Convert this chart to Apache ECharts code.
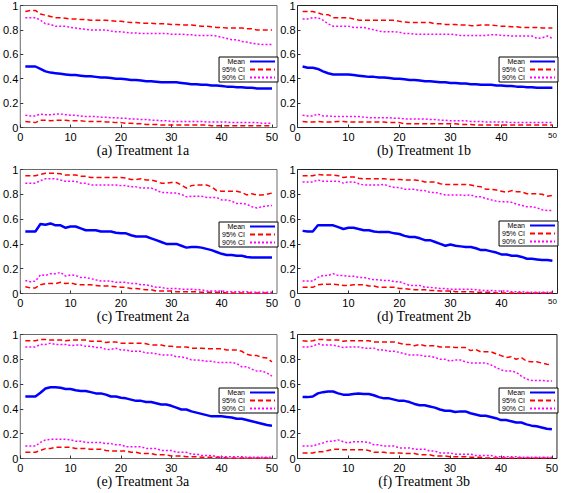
<!DOCTYPE html>
<html><head><meta charset="utf-8">
<script src="https://cdn.jsdelivr.net/npm/echarts@6/dist/echarts.min.js"></script>
<style>html,body{margin:0;padding:0;background:#fff}#c{width:561px;height:493px}</style>
</head><body><div id="c"></div>
<script>
const xValues = [1,2,3,4,5,6,7,8,9,10,11,12,13,14,15,16,17,18,19,20,21,22,23,24,25,26,27,28,29,30,31,32,33,34,35,36,37,38,39,40,41,42,43,44,45,46,47,48,49,50];
const xTicks = [0,10,20,30,40,50];
const captions = ['(a) Treatment 1a','(b) Treatment 1b','(c) Treatment 2a','(d) Treatment 2b','(e) Treatment 3a','(f) Treatment 3b'];
const legendNames = ['Mean','95% CI','90% CI'];

// Panel (a)
const meanA = [0.50,0.50,0.50,0.48,0.46,0.45,0.445,0.44,0.435,0.43,0.43,0.425,0.42,0.42,0.415,0.41,0.41,0.405,0.40,0.40,0.395,0.39,0.39,0.385,0.38,0.38,0.375,0.37,0.37,0.37,0.37,0.365,0.36,0.355,0.355,0.35,0.35,0.345,0.345,0.34,0.335,0.335,0.33,0.33,0.325,0.325,0.32,0.32,0.32,0.32];
const up95A = [0.95,0.96,0.96,0.93,0.92,0.91,0.90,0.90,0.895,0.89,0.89,0.885,0.885,0.88,0.88,0.88,0.88,0.875,0.87,0.87,0.865,0.86,0.86,0.855,0.855,0.855,0.85,0.85,0.85,0.845,0.845,0.84,0.84,0.84,0.835,0.83,0.83,0.825,0.82,0.82,0.815,0.815,0.815,0.815,0.81,0.81,0.80,0.80,0.80,0.80];
const up90A = [0.90,0.90,0.90,0.88,0.85,0.845,0.83,0.83,0.83,0.82,0.815,0.81,0.805,0.80,0.80,0.80,0.80,0.79,0.785,0.785,0.78,0.775,0.775,0.77,0.77,0.77,0.77,0.77,0.77,0.765,0.765,0.765,0.76,0.76,0.755,0.755,0.755,0.755,0.75,0.74,0.73,0.72,0.72,0.705,0.70,0.69,0.685,0.68,0.68,0.68];
const lo90A = [0.10,0.095,0.095,0.11,0.105,0.105,0.11,0.11,0.105,0.10,0.10,0.095,0.09,0.09,0.09,0.085,0.085,0.08,0.08,0.075,0.075,0.07,0.07,0.065,0.065,0.06,0.06,0.055,0.055,0.05,0.05,0.05,0.05,0.05,0.05,0.05,0.045,0.045,0.045,0.045,0.045,0.04,0.04,0.04,0.04,0.04,0.04,0.035,0.035,0.035];
const lo95A = [0.05,0.045,0.04,0.06,0.06,0.055,0.06,0.06,0.06,0.055,0.055,0.055,0.05,0.05,0.05,0.05,0.045,0.045,0.04,0.04,0.035,0.035,0.03,0.03,0.025,0.025,0.025,0.02,0.02,0.02,0.02,0.02,0.02,0.02,0.02,0.02,0.02,0.015,0.015,0.015,0.015,0.015,0.015,0.015,0.015,0.015,0.015,0.015,0.015,0.015];

// Panel (b)
const meanB = [0.50,0.49,0.49,0.48,0.46,0.445,0.435,0.435,0.435,0.435,0.43,0.425,0.42,0.415,0.415,0.41,0.41,0.405,0.40,0.40,0.395,0.39,0.39,0.385,0.38,0.38,0.375,0.37,0.37,0.365,0.365,0.36,0.36,0.355,0.355,0.35,0.35,0.35,0.345,0.345,0.34,0.34,0.335,0.335,0.33,0.33,0.325,0.325,0.325,0.325];
const up95B = [0.95,0.95,0.95,0.94,0.925,0.925,0.90,0.90,0.90,0.90,0.89,0.88,0.88,0.88,0.88,0.88,0.88,0.88,0.88,0.87,0.865,0.86,0.86,0.86,0.86,0.86,0.85,0.85,0.845,0.845,0.845,0.84,0.84,0.835,0.835,0.84,0.84,0.84,0.835,0.83,0.83,0.825,0.825,0.82,0.82,0.82,0.82,0.815,0.815,0.815];
const up90B = [0.89,0.89,0.90,0.90,0.88,0.85,0.83,0.83,0.83,0.83,0.82,0.82,0.82,0.81,0.80,0.79,0.785,0.785,0.785,0.78,0.77,0.77,0.765,0.765,0.765,0.765,0.765,0.765,0.765,0.765,0.76,0.755,0.755,0.755,0.755,0.755,0.755,0.76,0.76,0.755,0.755,0.75,0.75,0.75,0.75,0.75,0.73,0.735,0.75,0.73];
const lo90B = [0.10,0.095,0.095,0.11,0.095,0.095,0.09,0.09,0.09,0.09,0.09,0.09,0.085,0.08,0.08,0.08,0.08,0.08,0.075,0.075,0.07,0.07,0.07,0.07,0.07,0.065,0.065,0.06,0.06,0.055,0.055,0.055,0.055,0.05,0.05,0.05,0.045,0.045,0.045,0.045,0.045,0.04,0.04,0.04,0.04,0.04,0.04,0.04,0.04,0.04];
const lo95B = [0.05,0.045,0.045,0.05,0.045,0.045,0.045,0.05,0.05,0.045,0.045,0.045,0.045,0.045,0.045,0.045,0.045,0.04,0.04,0.04,0.03,0.03,0.03,0.03,0.03,0.03,0.03,0.03,0.03,0.03,0.03,0.025,0.025,0.025,0.02,0.02,0.02,0.02,0.02,0.02,0.02,0.02,0.02,0.02,0.02,0.02,0.02,0.02,0.02,0.02];

// Panel (c)
const meanC = [0.50,0.50,0.50,0.56,0.555,0.565,0.55,0.55,0.53,0.54,0.54,0.525,0.51,0.51,0.51,0.50,0.50,0.50,0.49,0.485,0.485,0.47,0.46,0.46,0.46,0.445,0.43,0.415,0.40,0.40,0.40,0.385,0.37,0.375,0.375,0.37,0.36,0.35,0.335,0.32,0.31,0.31,0.305,0.305,0.295,0.29,0.29,0.29,0.29,0.29];
const up95C = [0.95,0.95,0.95,0.96,0.97,0.97,0.97,0.965,0.955,0.955,0.955,0.945,0.945,0.935,0.935,0.935,0.935,0.935,0.935,0.935,0.93,0.92,0.92,0.925,0.915,0.915,0.905,0.89,0.89,0.895,0.895,0.875,0.85,0.87,0.875,0.875,0.875,0.86,0.83,0.825,0.825,0.825,0.825,0.815,0.795,0.805,0.795,0.795,0.80,0.81];
const up90C = [0.89,0.89,0.89,0.91,0.925,0.925,0.925,0.915,0.905,0.905,0.905,0.89,0.89,0.875,0.875,0.875,0.875,0.875,0.875,0.87,0.87,0.86,0.86,0.85,0.85,0.85,0.835,0.815,0.815,0.81,0.81,0.80,0.78,0.785,0.785,0.785,0.775,0.775,0.775,0.755,0.755,0.745,0.725,0.725,0.72,0.70,0.69,0.70,0.705,0.71];
const lo90C = [0.105,0.095,0.10,0.15,0.145,0.16,0.16,0.17,0.14,0.15,0.145,0.13,0.13,0.12,0.11,0.10,0.10,0.10,0.09,0.09,0.09,0.08,0.08,0.07,0.07,0.06,0.05,0.05,0.04,0.04,0.04,0.035,0.035,0.035,0.03,0.03,0.02,0.02,0.02,0.02,0.015,0.015,0.015,0.015,0.015,0.01,0.01,0.01,0.01,0.01];
const lo95C = [0.055,0.045,0.045,0.07,0.08,0.08,0.08,0.09,0.08,0.085,0.075,0.07,0.07,0.07,0.065,0.06,0.06,0.06,0.055,0.05,0.05,0.04,0.04,0.035,0.03,0.03,0.02,0.02,0.02,0.02,0.015,0.015,0.015,0.015,0.015,0.01,0.01,0.01,0.01,0.01,0.005,0.005,0.005,0.005,0.005,0.005,0.005,0.005,0.005,0.005];

// Panel (d)
const meanD = [0.505,0.50,0.50,0.55,0.55,0.55,0.55,0.535,0.52,0.53,0.53,0.52,0.51,0.51,0.50,0.495,0.495,0.495,0.485,0.48,0.465,0.455,0.455,0.445,0.43,0.43,0.415,0.40,0.385,0.395,0.385,0.38,0.375,0.375,0.365,0.35,0.35,0.34,0.33,0.315,0.315,0.305,0.305,0.295,0.28,0.28,0.275,0.27,0.27,0.265];
const up95D = [0.95,0.95,0.95,0.96,0.955,0.955,0.955,0.95,0.935,0.94,0.94,0.93,0.925,0.925,0.925,0.925,0.925,0.92,0.92,0.92,0.915,0.915,0.915,0.91,0.90,0.90,0.90,0.885,0.88,0.88,0.88,0.88,0.88,0.875,0.865,0.86,0.84,0.84,0.835,0.825,0.815,0.83,0.82,0.82,0.805,0.805,0.805,0.80,0.785,0.79];
const up90D = [0.90,0.90,0.90,0.915,0.905,0.905,0.905,0.905,0.89,0.90,0.90,0.885,0.875,0.875,0.875,0.875,0.88,0.865,0.855,0.855,0.84,0.84,0.84,0.83,0.83,0.815,0.815,0.805,0.795,0.795,0.795,0.795,0.79,0.795,0.78,0.78,0.765,0.755,0.745,0.74,0.74,0.735,0.72,0.71,0.70,0.70,0.69,0.675,0.67,0.67];
const lo90D = [0.10,0.10,0.10,0.13,0.145,0.145,0.16,0.145,0.145,0.14,0.14,0.13,0.13,0.12,0.11,0.11,0.105,0.105,0.095,0.095,0.08,0.065,0.065,0.065,0.05,0.05,0.045,0.04,0.04,0.035,0.035,0.035,0.035,0.035,0.03,0.025,0.025,0.025,0.02,0.02,0.02,0.015,0.015,0.015,0.01,0.01,0.01,0.01,0.01,0.01];
const lo95D = [0.05,0.05,0.05,0.07,0.075,0.075,0.075,0.07,0.065,0.065,0.07,0.07,0.07,0.06,0.06,0.05,0.05,0.05,0.05,0.04,0.04,0.035,0.03,0.03,0.03,0.025,0.025,0.02,0.02,0.02,0.015,0.015,0.015,0.015,0.01,0.01,0.01,0.01,0.005,0.005,0.005,0.005,0.005,0.005,0.005,0.005,0.005,0.005,0.005,0.005];

// Panel (e)
const meanE = [0.50,0.50,0.50,0.53,0.565,0.575,0.575,0.57,0.56,0.56,0.55,0.545,0.545,0.535,0.525,0.525,0.515,0.50,0.50,0.49,0.485,0.475,0.465,0.465,0.455,0.455,0.445,0.435,0.435,0.425,0.41,0.395,0.395,0.38,0.37,0.36,0.35,0.34,0.34,0.34,0.335,0.33,0.32,0.32,0.31,0.30,0.29,0.28,0.27,0.265];
const up95E = [0.95,0.95,0.95,0.96,0.96,0.955,0.955,0.955,0.95,0.955,0.955,0.955,0.955,0.945,0.945,0.945,0.935,0.94,0.94,0.93,0.93,0.93,0.93,0.93,0.925,0.915,0.915,0.915,0.905,0.905,0.90,0.90,0.90,0.89,0.89,0.89,0.885,0.885,0.885,0.885,0.875,0.875,0.875,0.865,0.84,0.83,0.83,0.815,0.81,0.78];
const up90E = [0.90,0.90,0.90,0.92,0.92,0.93,0.92,0.92,0.92,0.91,0.915,0.915,0.905,0.905,0.895,0.895,0.88,0.88,0.89,0.875,0.875,0.865,0.865,0.865,0.85,0.85,0.845,0.835,0.835,0.835,0.82,0.82,0.81,0.795,0.795,0.79,0.785,0.785,0.775,0.775,0.775,0.775,0.765,0.74,0.74,0.72,0.705,0.705,0.69,0.665];
const lo90E = [0.10,0.10,0.10,0.13,0.15,0.155,0.155,0.155,0.155,0.15,0.14,0.14,0.13,0.13,0.13,0.13,0.12,0.12,0.11,0.11,0.095,0.095,0.095,0.095,0.08,0.08,0.08,0.065,0.065,0.065,0.05,0.05,0.05,0.035,0.035,0.025,0.025,0.025,0.015,0.015,0.015,0.015,0.015,0.015,0.01,0.01,0.01,0.01,0.01,0.01];
const lo95E = [0.05,0.05,0.05,0.065,0.08,0.08,0.09,0.09,0.09,0.09,0.08,0.08,0.08,0.075,0.075,0.075,0.065,0.06,0.06,0.06,0.06,0.05,0.05,0.04,0.04,0.04,0.03,0.03,0.03,0.02,0.02,0.02,0.015,0.015,0.015,0.01,0.01,0.01,0.01,0.01,0.005,0.005,0.005,0.005,0.005,0.005,0.005,0.005,0.005,0.005];

// Panel (f)
const meanF = [0.495,0.495,0.50,0.525,0.535,0.54,0.54,0.525,0.515,0.515,0.52,0.525,0.52,0.52,0.51,0.495,0.485,0.485,0.475,0.465,0.465,0.455,0.44,0.43,0.43,0.42,0.41,0.395,0.385,0.385,0.375,0.38,0.38,0.365,0.355,0.345,0.345,0.335,0.325,0.31,0.31,0.30,0.29,0.29,0.275,0.265,0.26,0.25,0.24,0.235];
const up95F = [0.95,0.945,0.95,0.96,0.96,0.955,0.955,0.955,0.945,0.95,0.95,0.95,0.95,0.95,0.94,0.94,0.94,0.94,0.94,0.93,0.92,0.92,0.91,0.92,0.91,0.91,0.91,0.90,0.90,0.90,0.895,0.895,0.895,0.87,0.88,0.86,0.86,0.86,0.845,0.83,0.815,0.82,0.80,0.815,0.785,0.78,0.78,0.77,0.76,0.755];
const up90F = [0.90,0.90,0.905,0.925,0.915,0.915,0.915,0.905,0.895,0.90,0.90,0.90,0.89,0.89,0.89,0.875,0.875,0.865,0.865,0.855,0.845,0.835,0.835,0.835,0.825,0.825,0.815,0.80,0.80,0.785,0.795,0.795,0.78,0.77,0.77,0.77,0.77,0.755,0.735,0.715,0.705,0.705,0.695,0.665,0.64,0.63,0.63,0.63,0.625,0.625];
const lo90F = [0.10,0.10,0.10,0.115,0.125,0.14,0.14,0.15,0.135,0.125,0.135,0.135,0.135,0.13,0.11,0.11,0.10,0.10,0.10,0.085,0.085,0.085,0.075,0.075,0.075,0.06,0.06,0.045,0.045,0.045,0.035,0.035,0.035,0.035,0.025,0.025,0.025,0.025,0.015,0.015,0.015,0.015,0.015,0.01,0.01,0.01,0.01,0.01,0.01,0.01];
const lo95F = [0.045,0.045,0.045,0.055,0.055,0.065,0.075,0.075,0.07,0.07,0.07,0.07,0.07,0.065,0.05,0.05,0.05,0.045,0.045,0.045,0.04,0.04,0.04,0.03,0.03,0.03,0.02,0.02,0.02,0.015,0.015,0.015,0.015,0.01,0.01,0.01,0.005,0.005,0.005,0.005,0.005,0.005,0.005,0.005,0.005,0.005,0.005,0.005,0.005,0.005];

const panels = [
  {mean: meanA, up95: up95A, lo95: lo95A, up90: up90A, lo90: lo90A},
  {mean: meanB, up95: up95B, lo95: lo95B, up90: up90B, lo90: lo90B},
  {mean: meanC, up95: up95C, lo95: lo95C, up90: up90C, lo90: lo90C},
  {mean: meanD, up95: up95D, lo95: lo95D, up90: up90D, lo90: lo90D},
  {mean: meanE, up95: up95E, lo95: lo95E, up90: up90E, lo90: lo90E},
  {mean: meanF, up95: up95F, lo95: lo95F, up90: up90F, lo90: lo90F}
];

// layout (px)
const gridBoxes = [
  {left: 15, top: 4.5, width: 262, height: 123},
  {left: 297.5, top: 4.5, width: 260, height: 123},
  {left: 15, top: 169.5, width: 262, height: 124},
  {left: 297.5, top: 169.5, width: 260, height: 124},
  {left: 15, top: 334.5, width: 262, height: 124},
  {left: 297.5, top: 334.5, width: 261, height: 124}
];
const legendPos = [
  {right: 283, top: 57}, {right: 3, top: 57},
  {right: 283, top: 222}, {right: 3, top: 221},
  {right: 283, top: 388}, {right: 3, top: 388}
];
const captionPos = [[143, 151], [424, 151], [143, 317], [424, 317], [143, 482], [424, 482]];
const smallFifty = [false, true, false, true, false, false];

const pair = arr => xValues.map((x, i) => [x, arr[i]]);
const SANS = 'Liberation Sans, Arial, sans-serif';

const option = {
  animation: false,
  grid: [], xAxis: [], yAxis: [], series: [], legend: [], title: []
};

gridBoxes.forEach((g, i) => {
  const left = i % 2 === 0;
  option.grid.push(Object.assign({show: true, borderColor: left ? '#6a6a6a' : '#222', borderWidth: 1, backgroundColor: 'transparent', containLabel: false}, g));
  option.xAxis.push({
    type: 'value', gridIndex: i, min: 0, max: 51, interval: 10,
    axisLine: {show: false},
    axisTick: {show: true, inside: true, length: 3, customValues: xTicks, lineStyle: {color: '#333'}},
    splitLine: {show: false},
    axisLabel: {
      customValues: xTicks, margin: 4, color: '#000', fontSize: 11, fontFamily: SANS,
      formatter: v => (smallFifty[i] && v === 50) ? '{s|50}' : String(v),
      rich: {s: {fontSize: 8, fontFamily: SANS, color: '#000'}}
    }
  });
  option.yAxis.push({
    type: 'value', gridIndex: i, min: 0, max: 1, interval: 0.2,
    axisLine: {show: false},
    axisTick: {show: true, inside: true, length: 3, lineStyle: {color: '#333'}},
    splitLine: {show: false},
    axisLabel: {margin: 2, color: '#000', fontSize: 11, fontFamily: SANS}
  });
  const p = panels[i];
  const common = {type: 'line', xAxisIndex: i, yAxisIndex: i, symbol: 'none', showSymbol: false, silent: true};
  option.series.push(Object.assign({}, common, {name: '95% CI', data: pair(p.up95), lineStyle: {color: '#ff0000', width: 1.5, type: [5, 3]}, itemStyle: {color: '#ff0000'}}));
  option.series.push(Object.assign({}, common, {name: '95% CI', data: pair(p.lo95), lineStyle: {color: '#ff0000', width: 1.5, type: [5, 3]}, itemStyle: {color: '#ff0000'}}));
  option.series.push(Object.assign({}, common, {name: '90% CI', data: pair(p.up90), lineStyle: {color: '#ff00ff', width: 1.5, type: [2, 2]}, itemStyle: {color: '#ff00ff'}}));
  option.series.push(Object.assign({}, common, {name: '90% CI', data: pair(p.lo90), lineStyle: {color: '#ff00ff', width: 1.5, type: [2, 2]}, itemStyle: {color: '#ff00ff'}}));
  option.series.push(Object.assign({}, common, {name: 'Mean', data: pair(p.mean), lineStyle: {color: '#0000ff', width: 2.5}, itemStyle: {color: '#0000ff'}, z: 3}));
  option.legend.push(Object.assign({
    data: legendNames, orient: 'vertical', align: 'right',
    itemWidth: 25, itemHeight: 6, itemGap: 1, padding: [1, 2, 1, 3],
    borderColor: '#000', borderWidth: 1, borderRadius: 0, backgroundColor: '#fff',
    selectedMode: false,
    itemStyle: {opacity: 0},
    textStyle: {fontSize: 7, lineHeight: 7, fontFamily: SANS, color: '#000', padding: 0}
  }, legendPos[i]));
  option.title.push({
    text: captions[i], left: captionPos[i][0], top: captionPos[i][1] - 8, textAlign: 'center', padding: 0,
    textStyle: {fontSize: 14, fontWeight: 'normal', fontFamily: 'Liberation Serif, DejaVu Serif, serif', color: '#000'}
  });
});

const chart = echarts.init(document.getElementById('c'), null, {renderer: 'svg'});
chart.setOption(option);
</script>
</body></html>
